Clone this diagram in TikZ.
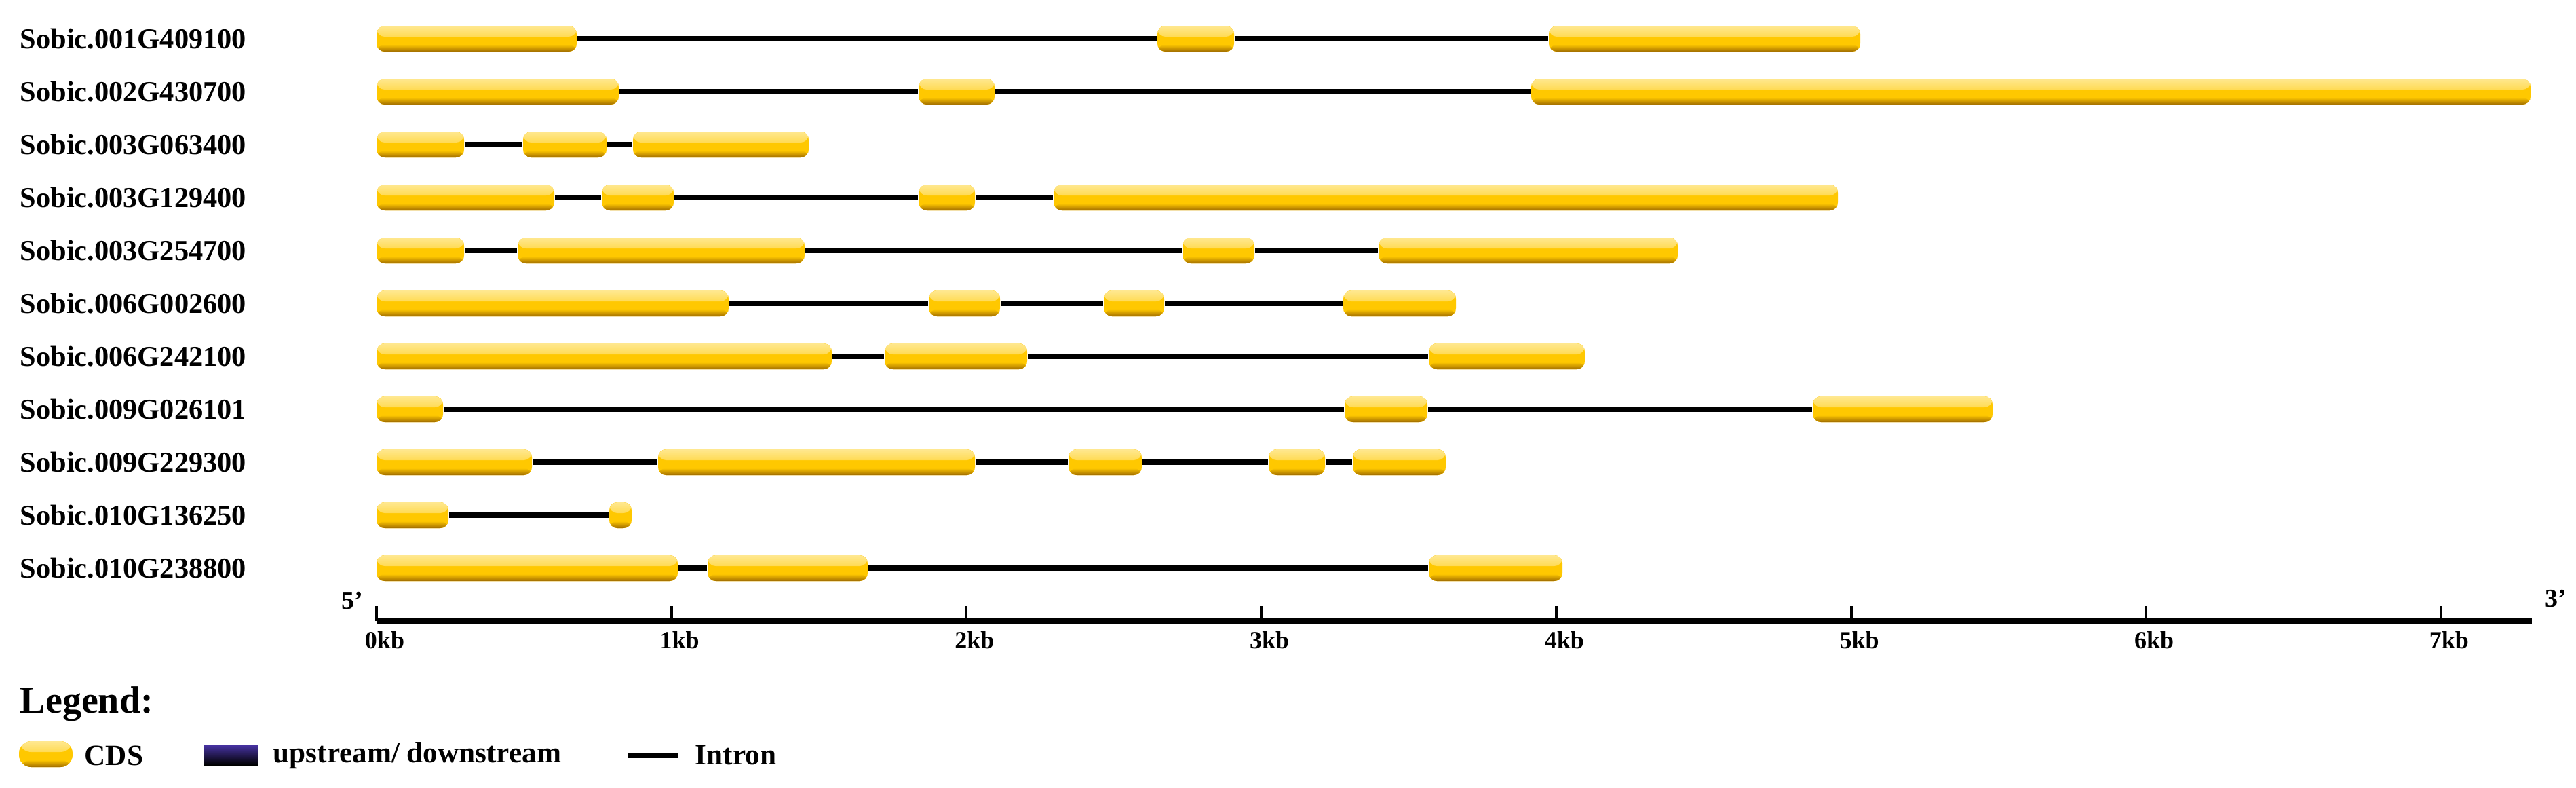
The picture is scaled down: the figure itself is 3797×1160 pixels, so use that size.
\documentclass[tikz,border=0pt]{standalone}
\usepackage{fontspec}
\setmainfont{Liberation Serif}
\definecolor{cdstop}{HTML}{FFE890}
\definecolor{cdsmid}{HTML}{FFC800}
\definecolor{cdsbot}{HTML}{A06C00}
\definecolor{updtop}{RGB}{70,50,160}
\definecolor{updmid}{RGB}{25,12,85}
\tikzset{
  exon/.style={rectangle, rounded corners=3pt, inner sep=0pt, minimum height=9.5pt,
    fill=cdsmid, draw=none,
    path picture={
      \fill[top color=cdstop, bottom color=cdsmid]
        (path picture bounding box.north west) rectangle ([yshift=-4pt]path picture bounding box.north east);
      \fill[top color=cdsmid, bottom color=cdsbot]
        ([yshift=2.6pt]path picture bounding box.south west) rectangle (path picture bounding box.south east);
    }},
  intron/.style={line width=2.1pt, black},
  genelabel/.style={anchor=west, inner sep=0pt, font=\bfseries\fontsize{10.6}{12}\selectfont},
  axisline/.style={line width=2pt, black},
  tickline/.style={line width=1pt, black},
  ticklabel/.style={inner sep=0pt, font=\bfseries\fontsize{9}{10}\selectfont},
  primelabel/.style={inner sep=0pt, font=\bfseries\fontsize{9.5}{10}\selectfont},
  legtitle/.style={anchor=west, inner sep=0pt, font=\bfseries\fontsize{14}{16}\selectfont},
  legtext/.style={anchor=west, inner sep=0pt, font=\bfseries\fontsize{10.8}{12}\selectfont},
}
\newcommand\generow[4]{%
  \node[genelabel] (#1lab) at (29,#2) {#3};
  \foreach [count=\i] \a/\b in {#4} {
    \node[exon, minimum width={(\b-\a)*0.25pt}] (#1e\i) at ({(\a+\b)/2},#2) {};
  }
  \foreach [count=\i] \a/\b in {#4} {
    \ifnum\i>1 \pgfmathtruncatemacro\j{\i-1}\draw[intron] (#1e\j.east) -- (#1e\i.west);\fi
  }
}
\begin{document}
\begin{tikzpicture}[x=0.25pt, y=-0.25pt]
\useasboundingbox (0,0) rectangle (3797,1160);
\fill[white] (0,0) rectangle (3797,1160);

\generow{ra}{57}{Sobic.001G409100}{555/850, 1706/1819, 2283/2742}
\generow{rb}{135}{Sobic.002G430700}{555/912, 1354/1466, 2257/3730}
\generow{rc}{213}{Sobic.003G063400}{555/684, 771/894, 933/1192}
\generow{rd}{291}{Sobic.003G129400}{555/817, 887/993, 1354/1437, 1553/2709}
\generow{re}{369}{Sobic.003G254700}{555/684, 763/1186, 1743/1849, 2032/2473}
\generow{rf}{447}{Sobic.006G002600}{555/1074, 1369/1474, 1627/1716, 1980/2146}
\generow{rg}{525}{Sobic.006G242100}{555/1226, 1304/1514, 2106/2336}
\generow{rh}{603}{Sobic.009G026101}{555/653, 1982/2104, 2672/2937}
\generow{ri}{681}{Sobic.009G229300}{555/784, 970/1437, 1575/1683, 1870/1953, 1994/2131}
\generow{rj}{759}{Sobic.010G136250}{555/661, 898/931}
\generow{rk}{837}{Sobic.010G238800}{555/999, 1043/1279, 2106/2303}

% scale axis
\coordinate (ax0) at (555,915);
\coordinate (ax1) at (3732,915);
\draw[axisline] (ax0) -- (ax1);
\foreach \k in {0,...,7} {
  \coordinate (tb\k) at ({555+\k*434.7},915);
  \coordinate (tt\k) at ({555+\k*434.7},893);
  \draw[tickline] (tb\k) -- (tt\k);
  \node[ticklabel] (tl\k) at ({555+\k*434.7+12},943) {\k kb};
}
\node[primelabel] (p5) at (519,885) {5'};
\node[primelabel] (p3) at (3767,882) {3'};

% legend
\node[legtitle] (legt) at (29,1037) {Legend:};
\node[exon, rounded corners=4.5pt, minimum width=19.75pt, minimum height=9.5pt] (legcds) at (67.5,1111) {};
\node[legtext] (legcdst) at (124,1113) {CDS};
\node[rectangle, inner sep=0pt, minimum width=20pt, minimum height=7.25pt,
  top color=updtop, middle color=updmid, bottom color=black] (legup) at (340,1112.5) {};
\node[legtext] (legupt) at (402,1113) {upstream/ downstream};
\coordinate (legi0) at (925,1113);
\coordinate (legi1) at (999,1113);
\draw[line width=1.8pt, black] (legi0) -- (legi1);
\node[legtext] (legit) at (1024,1113) {Intron};
\end{tikzpicture}
\end{document}
